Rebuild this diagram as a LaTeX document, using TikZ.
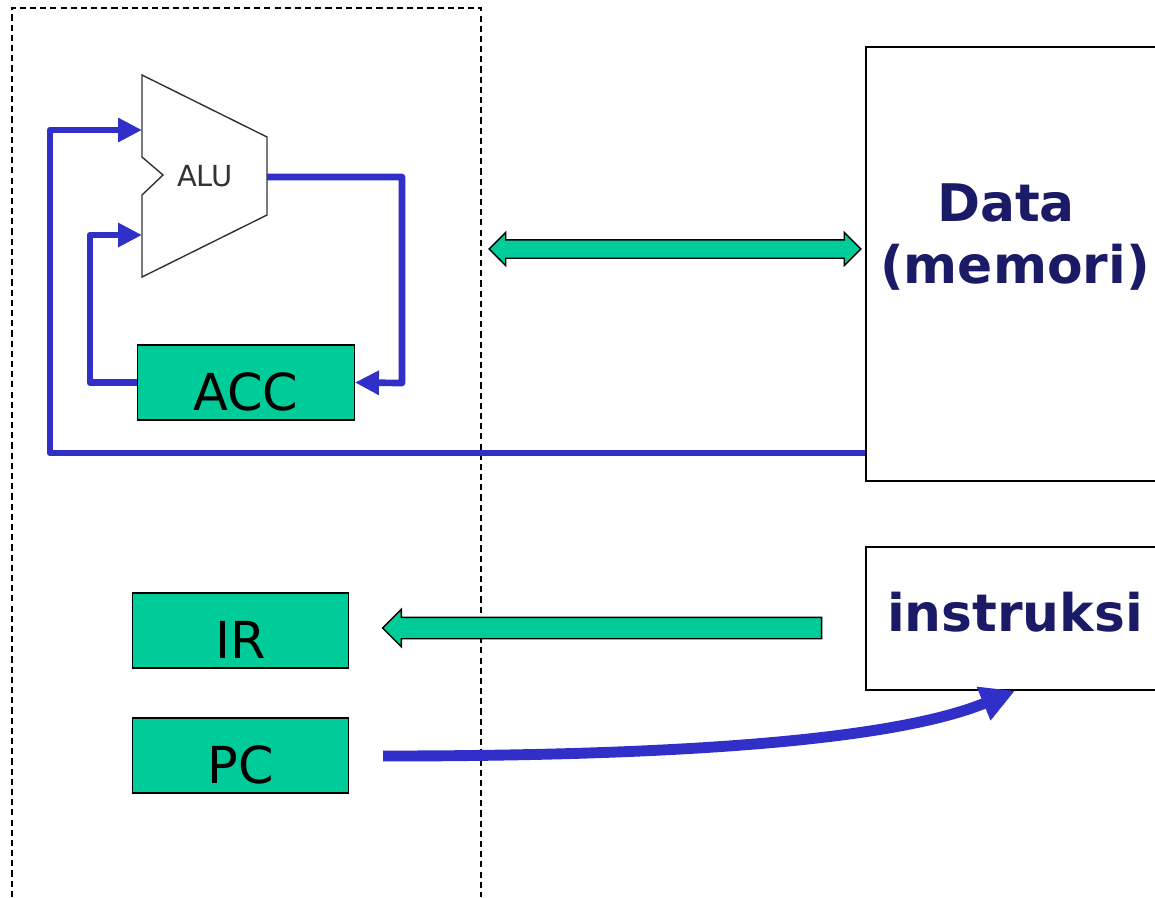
\documentclass[tikz,border=0pt]{standalone}
\usepackage{fontspec}
\setmainfont{DejaVu Sans}
\usepackage{tikz}
\usetikzlibrary{positioning,arrows.meta,shapes.arrows}
\definecolor{busblue}{RGB}{48,48,200}
\definecolor{regteal}{RGB}{0,204,153}
\definecolor{memnavy}{RGB}{26,26,102}

\begin{document}
\begin{tikzpicture}[x=0.02cm,y=-0.02cm,
        reg/.style={draw,fill=regteal,line width=0.8pt,minimum width=4.33cm,minimum height=1.5cm,
            inner sep=0pt,text height=1.1cm,text depth=0pt,font=\fontsize{29}{35}\selectfont},
        mem/.style={draw,line width=0.8pt,minimum width=5.96cm,inner sep=0pt},
        memtext/.style={text=memnavy,align=center,font=\fontsize{29.5}{35.8}\selectfont\bfseries},
        bus/.style={busblue,line width=3.8pt,line join=round,-{Triangle[length=0.48cm,width=0.46cm]}},
        pipe/.style={draw,fill=regteal,line width=0.8pt,inner xsep=0pt}]
                \useasboundingbox (0,0) rectangle (1155,897);
                \clip (0,0) rectangle (1155,897);

                %CPU frame
                \draw[dashed,line width=0.7pt,dash pattern=on 3.5pt off 2.3pt] (12,897) |- (481,8) -- (481,897);

                %ALU
                \draw[black!80,line width=0.8pt,fill=white] (142,75) -- (267,137) -- (267,215) -- (142,277)
                    -- (142,195) -- (163,175) -- (142,157) -- cycle;
                \node[text=black!80,font=\fontsize{16.5}{19}\selectfont] at (205,176) (alu) {ALU};
                \coordinate (aluA) at (142,130);
                \coordinate (aluB) at (142,235);
                \coordinate (aluY) at (267,177);

                %Nodes
                \node[reg] at (246,382.5)   (acc) {ACC};
                \node[reg] at (240.5,630.5) (ir)  {IR};
                \node[reg] at (240.5,755.5) (pc)  {PC};
                \node[mem,minimum height=8.68cm] at (1015,264)   (data)  {};
                \node[mem,minimum height=2.86cm] at (1015,618.5) (instr) {};
                \node[memtext] at (1015,237) (datatext)  {Data\kern0.35em\\(memori)};
                \node[memtext] at (1015,612) (instrtext) {instruksi};

                %Lines
                \draw[bus] (aluY) -| (402,383) -- (acc.east);
                \draw[bus] (acc.west) -| (90,235) -- (aluB);
                \draw[bus] (data.west |- 0,453) -| (50,130) -- (aluA);

                %Transfers
                \node[pipe,double arrow,inner ysep=0.17cm,minimum height=7.44cm,
                    double arrow head extend=0.15cm] at (675,249) (databus) {};
                \node[pipe,single arrow,shape border rotate=180,inner ysep=0.2cm,minimum height=8.78cm,
                    single arrow head extend=0.16cm] at (607.5,628) (irbus) {};
                \coordinate (pcout) at (383,756);
                \draw[busblue,line width=6.2pt,-{Triangle[length=0.68cm,width=0.68cm]}]
                    (pcout) .. controls (700,756) and (900,738) .. (instr.south);
            \end{tikzpicture}
\end{document}
